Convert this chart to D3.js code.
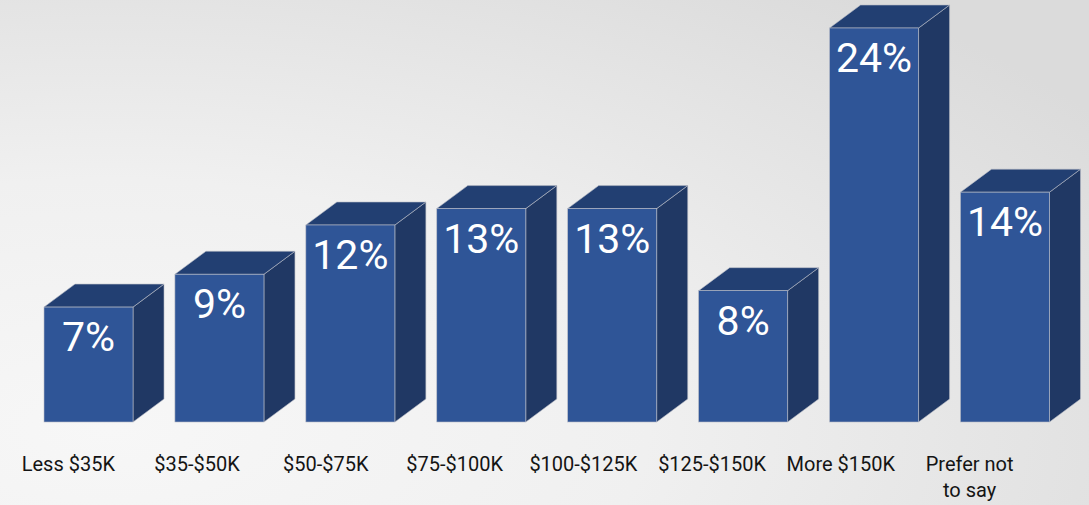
<!DOCTYPE html>
<html><head><meta charset="utf-8">
<script src="https://cdn.jsdelivr.net/npm/d3@7"></script>
<style>html,body{margin:0;padding:0;overflow:hidden;}svg{display:block;}</style>
</head><body>
<svg id="c" width="1089" height="505"></svg>
<script>
const categories = ["Less $35K","$35-$50K","$50-$75K","$75-$100K","$100-$125K","$125-$150K","More $150K","Prefer not to say"];
const categoryLines = [["Less $35K"],["$35-$50K"],["$50-$75K"],["$75-$100K"],["$100-$125K"],["$125-$150K"],["More $150K"],["Prefer not","to say"]];
const values = [7, 9, 12, 13, 13, 8, 24, 14];
const valueLabels = ["7%","9%","12%","13%","13%","8%","24%","14%"];

const W = 1089, H = 505;
const svg = d3.select("#c");
const defs = svg.append("defs");
const g = defs.append("radialGradient").attr("id","bg")
  .attr("cx","0.1").attr("cy","0.85").attr("r","1.1").attr("gradientUnits","objectBoundingBox");
g.append("stop").attr("offset","0").attr("stop-color","#f7f7f7");
g.append("stop").attr("offset","0.45").attr("stop-color","#f0f0f0");
g.append("stop").attr("offset","1").attr("stop-color","#dbdbdb");
svg.append("rect").attr("width",W).attr("height",H).attr("fill","url(#bg)");

const x = d3.scaleBand().domain(categories).range([44, 1049.5]).paddingInner(0.32).paddingOuter(0);
const y = d3.scaleLinear().domain([0, 24]).range([422, 28]);
const xl = d3.scaleBand().domain(categories).range([4, 1034]);
const dx = 31, dy = -23;

const bars = svg.append("g").selectAll("g").data(categories).join("g");
bars.each(function(c, i){
  const gg = d3.select(this);
  const x0 = x(c), x1 = x0 + x.bandwidth();
  const yt = y(values[i]), yb = y(0);
  gg.append("path").attr("d", `M${x1},${yt}L${x1+dx},${yt+dy}L${x1+dx},${yb+dy}L${x1},${yb}Z`)
    .attr("fill","#203864").attr("stroke","#b8bcc6").attr("stroke-width",0.6);
  gg.append("path").attr("d", `M${x0},${yt}L${x0+dx},${yt+dy}L${x1+dx},${yt+dy}L${x1},${yt}Z`)
    .attr("fill","#223f72").attr("stroke","#b8bcc6").attr("stroke-width",0.6);
  gg.append("rect").attr("x",x0).attr("y",yt).attr("width",x.bandwidth()).attr("height",yb-yt)
    .attr("fill","#2f5597").attr("stroke","#b8bcc6").attr("stroke-width",0.6);
  gg.append("text").attr("x",(x0+x1)/2).attr("y",yt+44).attr("text-anchor","middle")
    .attr("font-family","Roboto, sans-serif").attr("font-size",41).attr("fill","#ffffff")
    .text(valueLabels[i]);
});

const lab = svg.append("g").selectAll("text").data(categories).join("text")
  .attr("x", c => xl(c) + xl.bandwidth()/2)
  .attr("y", 471)
  .attr("text-anchor","middle")
  .attr("font-family","Roboto, sans-serif").attr("font-size",20).attr("fill","#141414");
lab.each(function(c, i){
  const t = d3.select(this);
  categoryLines[i].forEach((l, k) => {
    t.append("tspan").attr("x", xl(c) + xl.bandwidth()/2).attr("dy", k === 0 ? 0 : 26).text(l);
  });
});
</script>
</body></html>
